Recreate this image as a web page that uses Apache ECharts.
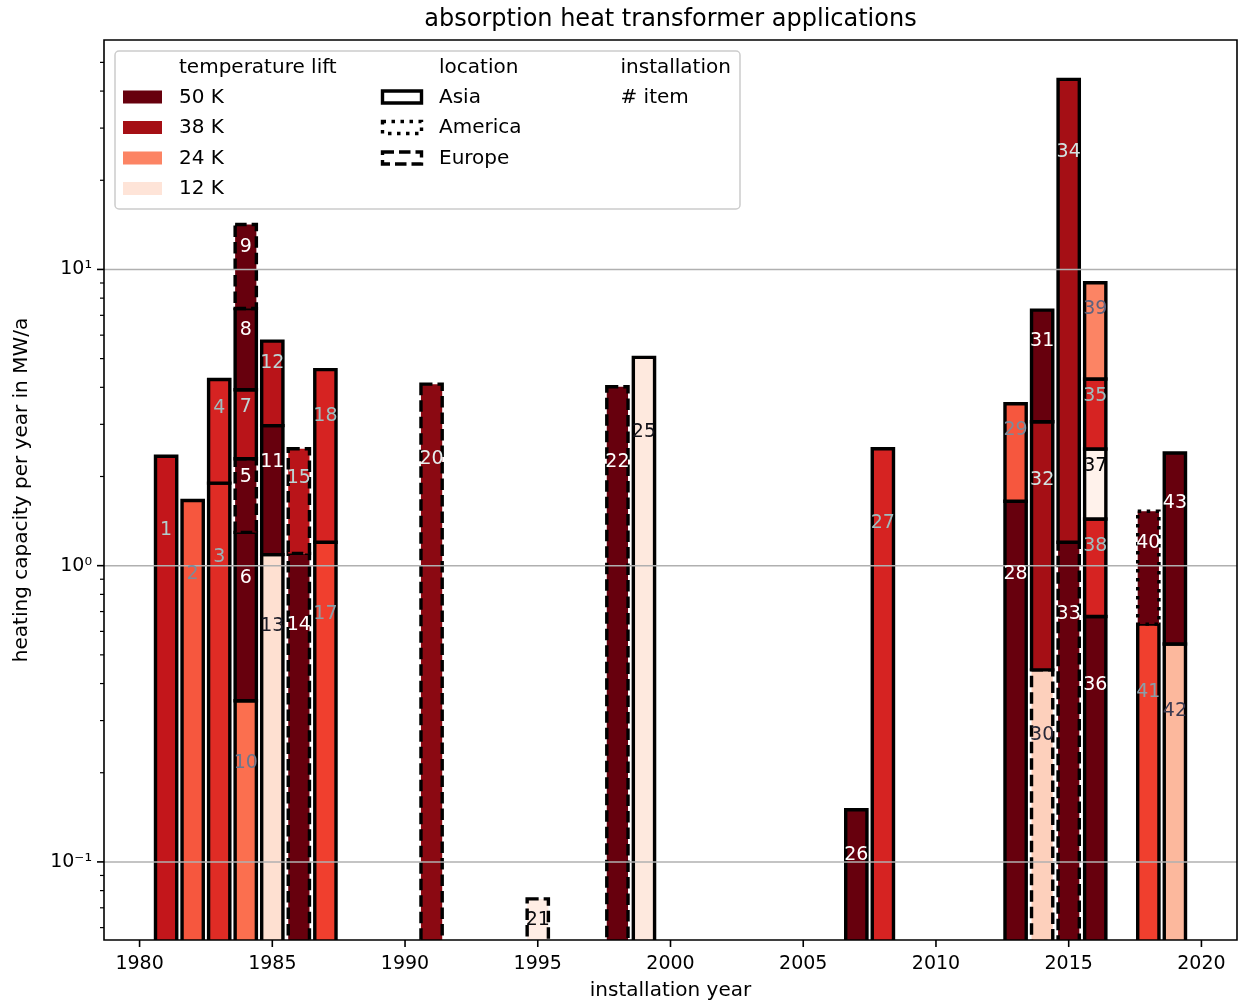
<!DOCTYPE html>
<html><head><meta charset="utf-8">
<script src="https://cdn.jsdelivr.net/npm/echarts@6/dist/echarts.min.js"></script>
<style>html,body{margin:0;padding:0;background:#fff}#c{width:1239px;height:1004px}</style>
</head><body><div id="c"></div>
<script>
// ---- data (stack order within each year, bottom first) ----
const itemIds    = [1,2,3,4,10,6,5,7,8,9,13,11,12,14,15,17,18,20,21,22,25,26,27,28,29,30,32,31,33,34,36,38,37,35,39,41,40,42,43];
const years      = [1981,1982,1983,1983,1984,1984,1984,1984,1984,1984,1985,1985,1985,1986,1986,1987,1987,1991,1995,1998,1999,2007,2008,2013,2013,2014,2014,2014,2015,2015,2016,2016,2016,2016,2016,2018,2018,2019,2019];
const capacities = [2.30,1.62,1.86,2.35,0.31,0.945,1.00,1.63,3.46,6.80,1.05,1.88,2.76,1.06,1.38,1.16,3.39,4.06,0.035,3.98,5.01,0.11,2.44,1.61,1.87,0.405,2.615,4.23,1.16,42.6,0.634,0.764,1.04,1.79,4.75,0.595,0.891,0.504,1.856];
const lifts      = [35,28,32,33,26,50,50,36,50,50,13,50,36,50,36,30,33,43,10,50,11,50,33,50,28,15,38,50,50,38,50,33,9,33,24,30,50,18,50];
const locations  = ['Asia','Asia','Asia','Asia','Asia','Asia','Europe','Asia','Asia','Europe','Asia','Asia','Asia','Europe','Europe','Asia','Asia','Europe','Europe','Europe','Asia','Asia','Asia','Asia','Asia','Europe','Asia','Asia','Europe','Asia','Asia','Asia','Asia','Asia','Asia','Asia','America','Asia','Asia'];
const legendLifts = [50,38,24,12];
const legendLocations = ['Asia','America','Europe'];
const xTickYears = [1980,1985,1990,1995,2000,2005,2010,2015,2020];
const yMajorTicks = [0.1,1,10];
const STACK_BASE = 0.04;

// ---- colormaps ----
const REDS = ['#fff5f0','#fee0d2','#fcbba1','#fc9272','#fb6a4a','#ef3b2c','#cb181d','#a50f15','#67000d'];
function hex2rgb(h){return [parseInt(h.slice(1,3),16),parseInt(h.slice(3,5),16),parseInt(h.slice(5,7),16)];}
function rgbStr(a){return 'rgb('+a.map(v=>Math.round(v)).join(',')+')';}
function reds(t){t=Math.max(0,Math.min(1,t));const s=t*8;const i=Math.min(7,Math.floor(s));const f=s-i;
  const a=hex2rgb(REDS[i]),b=hex2rgb(REDS[i+1]);return rgbStr(a.map((v,k)=>v+(b[k]-v)*f));}
function pw(pts,x){for(let i=0;i<pts.length-1;i++){if(x<=pts[i+1][0]){const [x0,y0]=pts[i],[x1,y1]=pts[i+1];return y0+(y1-y0)*(x-x0)/(x1-x0);}}return pts[pts.length-1][1];}
function liftToT(L){const a=[[12,0.1],[24,0.42],[38,0.875],[50,1]];
  if(L<12) return Math.max(0,0.1-(12-L)*(0.32/12)); return Math.min(1,pw(a,L));}
function bone(t){t=Math.max(0,Math.min(1,t));
  const r=pw([[0,0],[0.746032,0.652778],[1,1]],t), g=pw([[0,0],[0.365079,0.319444],[0.746032,0.782407],[1,1]],t), b=pw([[0,0],[0.365079,0.444444],[1,1]],t);
  return rgbStr([r*255,g*255,b*255]);}
const DASH = {Asia:null, America:[3.5,5.5], Europe:[11.5,5]};

// ---- stacking ----
const stackTop = {};
const segs = itemIds.map((id,i)=>{const y=years[i];const b=(stackTop[y]!==undefined)?stackTop[y]:STACK_BASE;const t=b+capacities[i];stackTop[y]=t;return [y,b,t,i];});

const FONT='"DejaVu Sans", sans-serif';
const chart = echarts.init(document.getElementById('c'), null, {renderer:'canvas'});

function isPow10(v){const e=Math.log10(v);return Math.abs(e-Math.round(e))<1e-6;}
const SUP={'-':'\u207B','0':'\u2070','1':'\u00B9','2':'\u00B2','3':'\u00B3'};

const legendEls = [];
legendEls.push({type:'rect',shape:{x:115,y:51,width:625,height:158,r:4},style:{fill:'rgba(255,255,255,0.8)',stroke:'#cccccc',lineWidth:1.5},z:100});
const rowY=[97.5,128,158.5,189];
const headY=67.5;
legendEls.push({type:'text',x:179,y:headY,style:{text:'temperature lift',font:'20px '+FONT,fill:'#000',align:'left',verticalAlign:'middle'},z:101});
legendLifts.forEach((L,i)=>{
  legendEls.push({type:'rect',shape:{x:123,y:rowY[i]-7,width:39,height:13},style:{fill:reds(liftToT(L))},z:101});
  legendEls.push({type:'text',x:179,y:rowY[i],style:{text:L+' K',font:'20px '+FONT,fill:'#000',align:'left',verticalAlign:'middle'},z:101});
});
legendEls.push({type:'text',x:439,y:headY,style:{text:'location',font:'20px '+FONT,fill:'#000',align:'left',verticalAlign:'middle'},z:101});
legendLocations.forEach((loc,i)=>{
  legendEls.push({type:'rect',shape:{x:382.5,y:rowY[i]-6.5,width:39,height:12},style:{fill:'rgba(0,0,0,0)',stroke:'#000',lineWidth:3.4,lineDash:DASH[loc]},z:101});
  legendEls.push({type:'text',x:439,y:rowY[i],style:{text:loc,font:'20px '+FONT,fill:'#000',align:'left',verticalAlign:'middle'},z:101});
});
legendEls.push({type:'text',x:620.5,y:headY,style:{text:'installation',font:'20px '+FONT,fill:'#000',align:'left',verticalAlign:'middle'},z:101});
legendEls.push({type:'text',x:620.5,y:rowY[0],style:{text:'# item',font:'20px '+FONT,fill:'#000',align:'left',verticalAlign:'middle'},z:101});

const option = {
  animation:false,
  grid:{left:104,top:40,right:2,bottom:64,containLabel:false,outerBoundsMode:'none'},
  xAxis:{type:'value',min:1978.66,max:2021.34,minInterval:5,maxInterval:5,
    axisLine:{show:false},axisTick:{show:false},splitLine:{show:false},
    axisLabel:{margin:15,fontSize:19,fontFamily:'DejaVu Sans',color:'#000',
      formatter:v=>Math.abs(v-Math.round(v/5)*5)<1e-6?String(Math.round(v)):''}},
  yAxis:{type:'log',logBase:10,min:0.0545,max:59.5,
    axisLine:{show:false},axisTick:{show:false},splitLine:{show:false},minorTick:{show:false},
    axisLabel:{margin:12,fontSize:19,fontFamily:'DejaVu Sans',color:'#000',
      formatter:v=>{if(!isPow10(v))return '';const e=String(Math.round(Math.log10(v)));return '10'+e.split('').map(c=>SUP[c]).join('');}}},
  graphic:{elements:[
    {type:'text',x:670.5,y:19.5,style:{text:'absorption heat transformer applications',font:'24px '+FONT,fill:'#000',align:'center',verticalAlign:'middle'},z:101},
    {type:'text',x:670.5,y:991,style:{text:'installation year',font:'20px '+FONT,fill:'#000',align:'center',verticalAlign:'middle'},z:101},
    {type:'text',x:22,y:490,rotation:Math.PI/2,style:{text:'heating capacity per year in MW/a',font:'20px '+FONT,fill:'#000',align:'center',verticalAlign:'middle'},z:101}
  ].concat(legendEls)},
  series:[
    {type:'custom',name:'bars',clip:true,z:2,data:segs,
     renderItem:(params,api)=>{
       const yr=api.value(0),b=api.value(1),t=api.value(2),i=api.value(3);
       const p0=api.coord([yr-0.4,t]),p1=api.coord([yr+0.4,b]);
       const cs=params.coordSys;const bottom=cs.y+cs.height;
       let y1=p1[1]; if(y1>bottom+6) y1=bottom+6;
       return {type:'rect',shape:{x:p0[0],y:p0[1],width:p1[0]-p0[0],height:y1-p0[1]},
         style:{fill:reds(liftToT(lifts[i])),stroke:'#000',lineWidth:3.4,lineDash:DASH[locations[i]]}};
     }},
    {type:'custom',name:'overlay',clip:false,z:5,data:[[2000,1]],
     renderItem:(params,api)=>{
       const cs=params.coordSys;const L=cs.x,T=cs.y,R=cs.x+cs.width,B=cs.y+cs.height;
       const ch=[];
       yMajorTicks.forEach(v=>{const y=api.coord([2000,v])[1];
         ch.push({type:'line',shape:{x1:L,y1:y,x2:R,y2:y},style:{stroke:'#b0b0b0',lineWidth:1.5}});
         ch.push({type:'line',shape:{x1:L-7,y1:y,x2:L,y2:y},style:{stroke:'#000',lineWidth:1.6}});});
       for(let k=-2;k<=1;k++){for(let m=2;m<=9;m++){const v=m*Math.pow(10,k);if(v<0.0545||v>59.5)continue;
         const y=api.coord([2000,v])[1];ch.push({type:'line',shape:{x1:L-4,y1:y,x2:L,y2:y},style:{stroke:'#000',lineWidth:1.2}});}}
       xTickYears.forEach(yr=>{const x=api.coord([yr,1])[0];ch.push({type:'line',shape:{x1:x,y1:B,x2:x,y2:B+7},style:{stroke:'#000',lineWidth:1.6}});});
       ch.push({type:'rect',shape:{x:L,y:T,width:R-L,height:B-T},style:{fill:'rgba(0,0,0,0)',stroke:'#000',lineWidth:1.6}});
       return {type:'group',children:ch};
     }},
    {type:'custom',name:'labels',clip:false,z:8,data:segs,
     renderItem:(params,api)=>{
       const yr=api.value(0),b=api.value(1),t=api.value(2),i=api.value(3);
       const cs=params.coordSys;const bottom=cs.y+cs.height;
       const p=api.coord([yr,(b+t)/2]);let y=p[1]-13; if(y>bottom-10) y=bottom-10;
       return {type:'text',x:p[0],y:y,style:{text:String(itemIds[i]),font:'19px '+FONT,fill:bone(liftToT(lifts[i])),align:'center',verticalAlign:'middle'}};
     }}
  ]
};
chart.setOption(option);
</script></body></html>
